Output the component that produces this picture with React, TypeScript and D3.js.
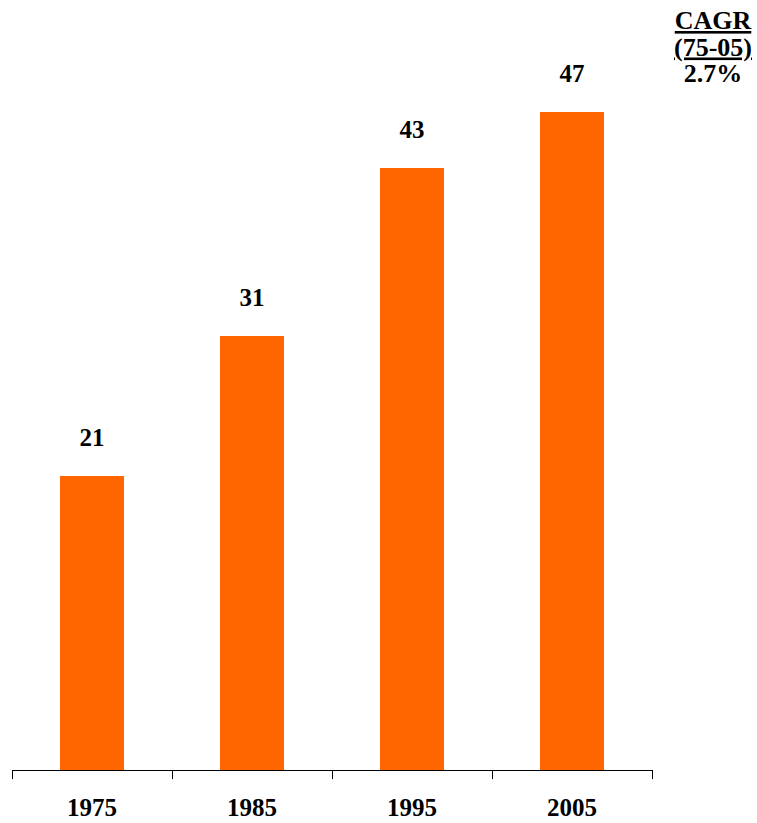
import React from "react";
import * as d3 from "d3";

const categories = ["1975", "1985", "1995", "2005"];
const values = [21, 31, 43, 47];
const cagrLines = ["CAGR", "(75-05)", "2.7%"];

const W = 757;
const H = 823;
const FONT = "'Liberation Serif', 'Times New Roman', serif";

export default function App() {
  const x = d3.scaleBand<string>().domain(categories).range([12, 652]).paddingInner(0.6).paddingOuter(0.3);
  const y = d3.scaleLinear().domain([0, 47]).range([770, 112]);
  const ticks = d3.range(categories.length + 1).map((i) => 12 + (i * 640) / categories.length);
  return (
    <svg width={W} height={H} style={{ position: "absolute", left: 0, top: 0, background: "#fff" }}>
      {categories.map((c, i) => (
        <g key={c}>
          <rect x={x(c)} y={y(values[i])} width={x.bandwidth()} height={y(0) - y(values[i])} fill="#FF6600" />
          <text x={x(c)! + x.bandwidth() / 2} y={y(values[i]) - 30} textAnchor="middle" fontFamily={FONT} fontWeight="bold" fontSize={25} fill="#000">
            {values[i]}
          </text>
          <text x={x(c)! + x.bandwidth() / 2} y={816} textAnchor="middle" fontFamily={FONT} fontWeight="bold" fontSize={25} fill="#000">
            {c}
          </text>
        </g>
      ))}
      <line x1={12} x2={652} y1={770.5} y2={770.5} stroke="#000" strokeWidth={1} />
      {ticks.map((t, i) => (
        <line key={i} x1={Math.round(t) + 0.5} x2={Math.round(t) + 0.5} y1={770} y2={779} stroke="#000" strokeWidth={1} />
      ))}
      {cagrLines.map((s, i) => (
        <text key={s} x={713} y={29 + i * 26.5} textAnchor="middle" fontFamily={FONT} fontWeight="bold" fontSize={26} fill="#000" textDecoration={i < 2 ? "underline" : undefined}>
          {s}
        </text>
      ))}
    </svg>
  );
}
